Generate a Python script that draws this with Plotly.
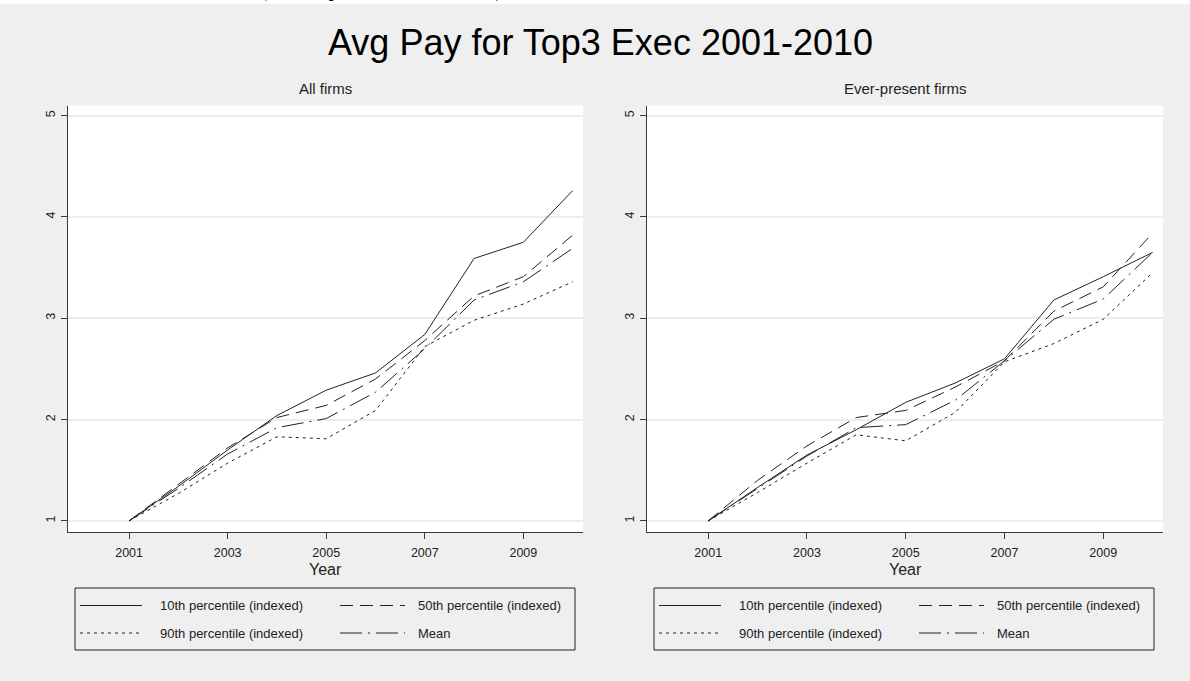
import plotly.graph_objects as go

# ---- data -------------------------------------------------------------
years = [2001, 2002, 2003, 2004, 2005, 2006, 2007, 2008, 2009, 2010]

# All firms
all_p10 = [1.00, 1.34, 1.70, 2.04, 2.29, 2.46, 2.84, 3.59, 3.75, 4.26]
all_p50 = [1.00, 1.36, 1.72, 2.02, 2.14, 2.40, 2.78, 3.22, 3.41, 3.82]
all_p90 = [1.00, 1.27, 1.57, 1.83, 1.81, 2.09, 2.72, 2.98, 3.14, 3.36]
all_mean = [1.00, 1.32, 1.66, 1.92, 2.01, 2.27, 2.70, 3.18, 3.36, 3.69]

# Ever-present firms
ever_p10 = [1.00, 1.33, 1.65, 1.90, 2.17, 2.36, 2.60, 3.18, 3.41, 3.65]
ever_p50 = [1.00, 1.40, 1.74, 2.02, 2.09, 2.32, 2.58, 3.07, 3.31, 3.84]
ever_p90 = [1.00, 1.28, 1.57, 1.85, 1.79, 2.07, 2.57, 2.75, 2.99, 3.45]
ever_mean = [1.00, 1.32, 1.64, 1.92, 1.95, 2.19, 2.58, 2.99, 3.19, 3.65]

series_names = ["10th percentile (indexed)", "50th percentile (indexed)",
                "90th percentile (indexed)", "Mean"]
x_ticks = [2001, 2003, 2005, 2007, 2009]
y_ticks = [1, 2, 3, 4, 5]

title_text = "Avg Pay for Top3 Exec 2001-2010"
panel_titles = ["All firms", "Ever-present firms"]
x_title = "Year"
caption_text = "(Salary in real terms)"

# ---- styling ----------------------------------------------------------
W, H = 1190, 681
FONT = "Liberation Sans, Arial, sans-serif"
LINE_COLOR = "#222222"
AXIS_COLOR = "#3a3a3a"
BG = "#efefef"
dash_styles = ["solid", "13px,7px", "3px,4px", "22px,6px,2px,6px"]


def fx(px):
    return px / W


def fy(py):
    return 1 - py / H


# panel geometry in pixels (left, right); shared top/bottom
panels = [(68, 583), (647, 1163)]
top_px, bottom_px = 105.5, 532

fig = go.Figure()

panel_series = [
    [all_p10, all_p50, all_p90, all_mean],
    [ever_p10, ever_p50, ever_p90, ever_mean],
]

for i, series in enumerate(panel_series):
    suffix = "" if i == 0 else "2"
    for name, vals, dash in zip(series_names, series, dash_styles):
        fig.add_trace(go.Scatter(
            x=years, y=vals, name=name, mode="lines",
            line=dict(color=LINE_COLOR, width=1, dash=dash),
            xaxis="x" + suffix, yaxis="y" + suffix,
            showlegend=False,
        ))

axis_common_x = dict(
    range=[1999.76, 2010.21], tickvals=x_ticks, ticks="outside", ticklen=6,
    tickcolor=AXIS_COLOR, showline=True, linecolor=AXIS_COLOR, linewidth=1,
    showgrid=False, zeroline=False, ticklabelstandoff=3,
    tickfont=dict(family=FONT, size=12.5, color="#222222"),
)
axis_common_y = dict(
    range=[0.89, 5.10], tickvals=y_ticks, ticks="outside", ticklen=6,
    tickcolor=AXIS_COLOR, showline=True, linecolor=AXIS_COLOR, linewidth=1,
    showgrid=True, gridcolor="#ededed", gridwidth=1.5, zeroline=False,
    tickangle=-90, ticklabelstandoff=1,
    tickfont=dict(family=FONT, size=12.5, color="#222222"),
)

ydom = [fy(bottom_px), fy(top_px)]
fig.update_layout(
    width=W, height=H,
    margin=dict(l=0, r=0, t=0, b=0),
    paper_bgcolor=BG, plot_bgcolor="white",
    showlegend=False,
    xaxis=dict(domain=[fx(panels[0][0]), fx(panels[0][1])], anchor="y", **axis_common_x),
    yaxis=dict(domain=ydom, anchor="x", **axis_common_y),
    xaxis2=dict(domain=[fx(panels[1][0]), fx(panels[1][1])], anchor="y2", **axis_common_x),
    yaxis2=dict(domain=ydom, anchor="x2", **axis_common_y),
)

annotations = []
shapes = []

# caption strip running off the top edge of the page
shapes.append(dict(type="rect", xref="paper", yref="paper",
                   x0=0, x1=1, y0=fy(4), y1=1,
                   fillcolor="white", line=dict(width=0), layer="below"))
annotations.append(dict(x=fx(381), y=fy(3), xref="paper", yref="paper",
                        xanchor="center", yanchor="bottom", showarrow=False,
                        text="<b>" + caption_text + "</b>",
                        font=dict(family="Liberation Serif, Times New Roman, serif",
                                  size=27, color="black")))

# main title
annotations.append(dict(x=fx(600), y=fy(42), xref="paper", yref="paper",
                        xanchor="center", yanchor="middle", showarrow=False,
                        text=title_text,
                        font=dict(family=FONT, size=36, color="black")))

for (left, right), ptitle in zip(panels, panel_titles):
    cx = (left + right) / 2
    annotations.append(dict(x=fx(cx), y=fy(88), xref="paper", yref="paper",
                            xanchor="center", yanchor="middle", showarrow=False,
                            text=ptitle,
                            font=dict(family=FONT, size=15, color="#222222")))
    annotations.append(dict(x=fx(cx), y=fy(569), xref="paper", yref="paper",
                            xanchor="center", yanchor="middle", showarrow=False,
                            text=x_title,
                            font=dict(family=FONT, size=16, color="#222222")))

    # legend box below each panel
    off = left - 68
    bx0, bx1, by0, by1 = 75 + off, 575 + off, 588, 650
    shapes.append(dict(type="rect", xref="paper", yref="paper",
                       x0=fx(bx0), x1=fx(bx1), y0=fy(by1), y1=fy(by0),
                       line=dict(color="#222222", width=1), fillcolor=BG))
    rows = [605.5, 633]
    cols = [(80, 142, 158), (340, 405, 416)]
    for k, (name, dash) in enumerate(zip(series_names, dash_styles)):
        r, c = divmod(k, 2)
        sx0, sx1, tx = cols[c]
        ry = rows[r]
        shapes.append(dict(type="line", xref="paper", yref="paper",
                           x0=fx(sx0 + off), x1=fx(sx1 + off),
                           y0=fy(ry), y1=fy(ry),
                           line=dict(color=LINE_COLOR, width=1, dash=dash)))
        annotations.append(dict(x=fx(tx + off), y=fy(ry), xref="paper", yref="paper",
                                xanchor="left", yanchor="middle", showarrow=False,
                                text=name,
                                font=dict(family=FONT, size=13, color="#222222")))

fig.update_layout(annotations=annotations, shapes=shapes)

fig.write_html("out.html")
